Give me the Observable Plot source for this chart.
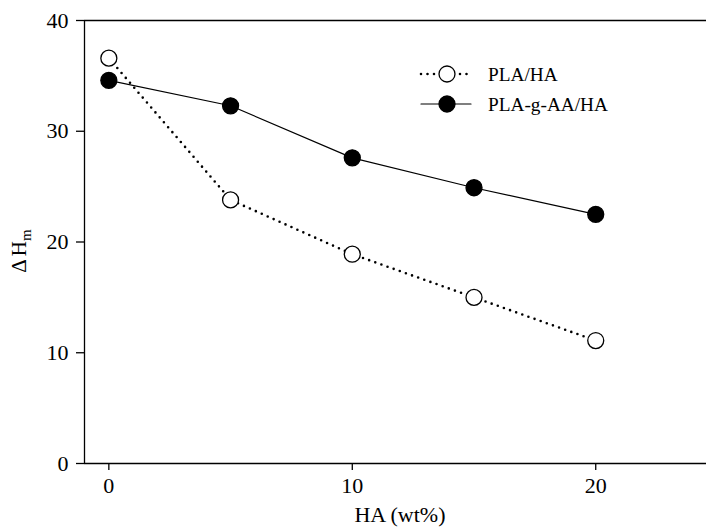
<!DOCTYPE html>
<html>
<head>
<meta charset="utf-8">
<script src="https://cdn.jsdelivr.net/npm/d3@7"></script>
<script src="https://cdn.jsdelivr.net/npm/@observablehq/plot@0.6"></script>
<style>
  html, body { margin: 0; padding: 0; background: #fff; }
  #chart { position: relative; width: 706px; height: 528px; }
  #chart svg, #chart svg text { font-family: "Liberation Serif", "Times New Roman", serif !important; }
  #chart svg text { font-size: 22px; }
  #chart svg text.leg { font-size: 19.3px; text-anchor: start; }
  #chart svg text.ttl { font-size: 22px; }
  #chart svg text.ylab { font-size: 21px; }
  #chart svg tspan.sub { font-size: 15px; }
</style>
</head>
<body>
<div id="chart"></div>
<script>
const haContent = [0, 5, 10, 15, 20];
const plaHA = [36.6, 23.8, 18.9, 15.0, 11.1];
const plaGAAHA = [34.6, 32.3, 27.6, 24.9, 22.5];
const seriesNames = ["PLA/HA", "PLA-g-AA/HA"];
const xTicks = [0, 10, 20];
const yTicks = [0, 10, 20, 30, 40];
const xDomain = [-1, 24.55];
const yDomain = [0, 40];
const xTitle = "HA (wt%)";

const dataA = haContent.map((x, i) => ({x, y: plaHA[i]}));
const dataB = haContent.map((x, i) => ({x, y: plaGAAHA[i]}));

const svg = Plot.plot({
  width: 706,
  height: 528,
  marginLeft: 84,
  marginRight: 0,
  marginTop: 20,
  marginBottom: 65,
  style: {color: "#000", background: "#fff", overflow: "visible"},
  x: {domain: xDomain},
  y: {domain: yDomain},
  marks: [
    Plot.axisY({ticks: yTicks, tickSize: 8, tickPadding: 8, label: null, stroke: "#000", strokeWidth: 1.3}),
    Plot.axisX({ticks: xTicks, tickSize: 7, tickPadding: 7, label: null, stroke: "#000", strokeWidth: 1.3}),
    Plot.ruleY([yDomain[0]], {stroke: "#000", strokeWidth: 1.3}),
    Plot.ruleY([yDomain[1]], {stroke: "#000", strokeWidth: 1.3}),
    Plot.ruleX([xDomain[0]], {stroke: "#000", strokeWidth: 1.3}),
    Plot.line(dataA, {x: "x", y: "y", stroke: "#000", strokeWidth: 2.6, strokeDasharray: "0,6.5", strokeLinecap: "round"}),
    Plot.line(dataB, {x: "x", y: "y", stroke: "#000", strokeWidth: 1.2}),
    Plot.dot(dataA, {x: "x", y: "y", r: 8, fill: "#fff", stroke: "#000", strokeWidth: 1.3}),
    Plot.dot(dataB, {x: "x", y: "y", r: 8, fill: "#000", stroke: "#000", strokeWidth: 1.3})
  ]
});

const s = d3.select(svg);
// X axis title
s.append("text").attr("class", "ttl")
  .attr("x", 400).attr("y", 522)
  .attr("text-anchor", "middle").attr("fill", "#000")
  .text(xTitle);

// Y axis label: ΔH with subscript m
const yl = s.append("text").attr("class", "ylab")
  .attr("transform", "translate(26,251) rotate(-90)")
  .attr("text-anchor", "middle")
  .attr("fill", "#000");
yl.append("tspan").text("\u0394");
yl.append("tspan").attr("dx", 3).text("H");
yl.append("tspan").attr("class", "sub").attr("dy", 5).text("m");

// Legend
const legend = s.append("g").attr("fill", "#000");
const rows = [
  {name: seriesNames[0], y: 74, dash: "0,6.5", width: 2.6, fill: "#fff"},
  {name: seriesNames[1], y: 104, dash: null, width: 1.2, fill: "#000"}
];
rows.forEach(r => {
  const ln = legend.append("line")
    .attr("x1", 421).attr("x2", 471).attr("y1", r.y).attr("y2", r.y)
    .attr("stroke", "#000").attr("stroke-width", r.width).attr("stroke-linecap", "round");
  if (r.dash) ln.attr("stroke-dasharray", r.dash);
  legend.append("circle").attr("cx", 447).attr("cy", r.y).attr("r", 8)
    .attr("fill", r.fill).attr("stroke", "#000").attr("stroke-width", 1.3);
  legend.append("text").attr("class", "leg").attr("x", 488).attr("y", r.y).attr("dy", "0.35em").text(r.name);
});

document.getElementById("chart").appendChild(svg);
</script>
</body>
</html>
